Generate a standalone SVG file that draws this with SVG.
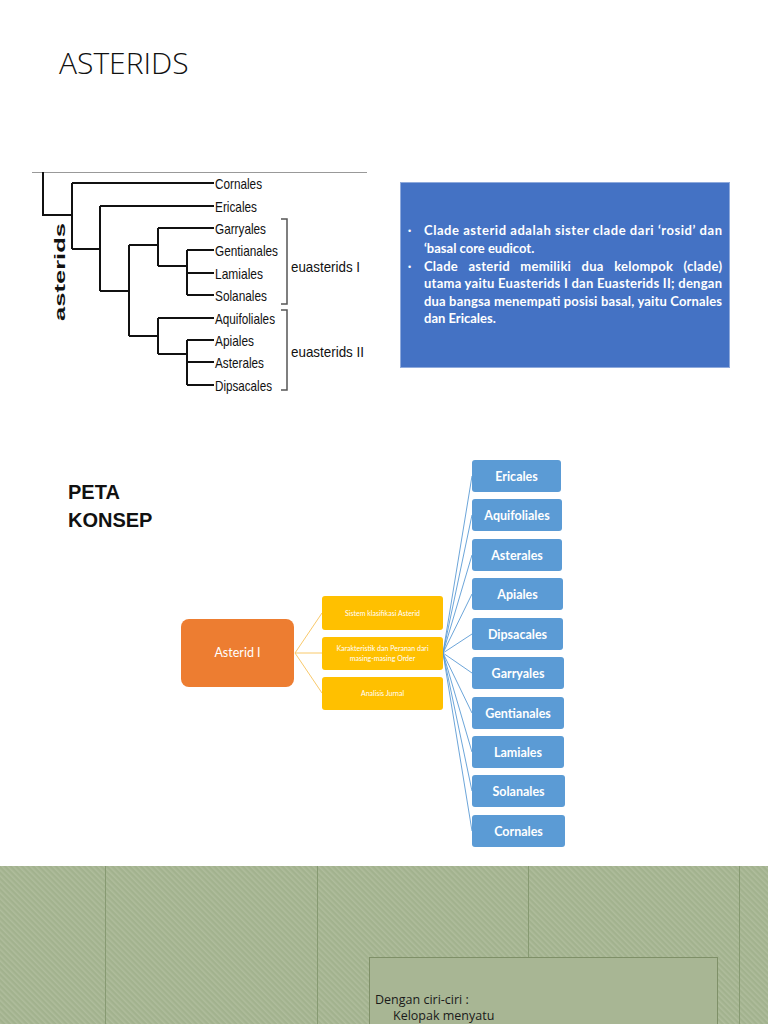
<svg xmlns="http://www.w3.org/2000/svg" width="768" height="1024" viewBox="0 0 768 1024">
<style>
.clade{fill:none;stroke:#111;stroke-width:2}
.leaf{font-family:"Liberation Sans",Arial,sans-serif;font-size:15px;fill:#111}
.brk{fill:none;stroke:#555;stroke-width:1.5}
.blu{font-family:Lato,"Open Sans",sans-serif;font-weight:bold;font-size:13px;fill:#fff}
.bul{font-family:"Liberation Sans",Arial,sans-serif;font-size:9px;fill:#fff}
.ord rect{fill:#5B9BD5}
.ord text{font-family:Lato,"Open Sans",sans-serif;font-weight:bold;font-size:12.5px;fill:#fff;text-anchor:middle}
.yel rect{fill:#FFC000}
.yel text{font-family:Lato,"Open Sans",sans-serif;font-size:7px;fill:#fff;text-anchor:middle}
.vl{stroke:#879a72;stroke-width:1}
</style>
<defs>
<pattern id="stripes" width="4" height="4" patternUnits="userSpaceOnUse" patternTransform="rotate(-45)">
<rect width="4" height="4" fill="#a2b28e"/>
<rect width="1.6" height="4" fill="#afbd9c"/>
</pattern>
</defs>
<rect width="768" height="1024" fill="#fff"/>

<text x="59" y="74" font-family="'Open Sans',sans-serif" font-weight="300" font-size="30" fill="#111">ASTERIDS</text>

<g id="cladogram">
<line x1="32" y1="172.5" x2="367" y2="172.5" stroke="#999" stroke-width="1"/>
<path class="clade" d="M43,172 V215 H72 M72,183 V249 M72,183 H214 M72,249 H100 M100,206 V291 M100,206 H214 M100,291 H129 M129,245 V336 M129,245 H158 M158,228 V266 M158,228 H214 M158,266 H187 M187,250 V295 M187,250 H214 M187,273 H214 M187,295 H214 M129,336 H158 M158,318 V354 M158,318 H214 M158,354 H187 M187,340 V385 M187,340 H214 M187,362 H214 M187,385 H214"/>
<text class="leaf" x="215" y="188.5" textLength="47" lengthAdjust="spacingAndGlyphs">Cornales</text>
<text class="leaf" x="215" y="211.5" textLength="42" lengthAdjust="spacingAndGlyphs">Ericales</text>
<text class="leaf" x="215" y="233.5" textLength="51" lengthAdjust="spacingAndGlyphs">Garryales</text>
<text class="leaf" x="215" y="255.5" textLength="63" lengthAdjust="spacingAndGlyphs">Gentianales</text>
<text class="leaf" x="215" y="278.5" textLength="48" lengthAdjust="spacingAndGlyphs">Lamiales</text>
<text class="leaf" x="215" y="300.5" textLength="52" lengthAdjust="spacingAndGlyphs">Solanales</text>
<text class="leaf" x="215" y="323.5" textLength="60" lengthAdjust="spacingAndGlyphs">Aquifoliales</text>
<text class="leaf" x="215" y="345.5" textLength="39" lengthAdjust="spacingAndGlyphs">Apiales</text>
<text class="leaf" x="215" y="367.5" textLength="49" lengthAdjust="spacingAndGlyphs">Asterales</text>
<text class="leaf" x="215" y="390.5" textLength="57" lengthAdjust="spacingAndGlyphs">Dipsacales</text>
<path class="brk" d="M281,219 H287 V304 H281 M281,310 H287 V390 H281"/>
<text class="leaf" x="291" y="272" font-size="17" textLength="69" lengthAdjust="spacingAndGlyphs">euasterids I</text>
<text class="leaf" x="291" y="357" font-size="17" textLength="73" lengthAdjust="spacingAndGlyphs">euasterids II</text>
<text class="leaf" transform="translate(65,321) rotate(-90)" font-size="20" font-weight="bold" textLength="98" lengthAdjust="spacingAndGlyphs">asterids</text>
</g>

<g id="infobox">
<rect x="400.5" y="182.5" width="329" height="185" fill="#4472C4" stroke="#8faadc" stroke-width="1"/>
<text class="bul" x="408" y="234">•</text>
<text class="blu" x="424" y="235" textLength="298" lengthAdjust="spacing">Clade asterid adalah sister clade dari ‘rosid’  dan</text>
<text class="blu" x="424" y="252.5">‘basal core eudicot.</text>
<text class="bul" x="408" y="269.5">•</text>
<text class="blu" x="424" y="270.5" word-spacing="7" textLength="298" lengthAdjust="spacing">Clade asterid memiliki dua kelompok (clade)</text>
<text class="blu" x="424" y="288" textLength="298" lengthAdjust="spacing">utama yaitu Euasterids I dan Euasterids II; dengan</text>
<text class="blu" x="424" y="305.5" textLength="298" lengthAdjust="spacing">dua bangsa menempati posisi basal, yaitu Cornales</text>
<text class="blu" x="424" y="323">dan Ericales.</text>
</g>

<g id="peta-konsep">
<text x="68" y="499" font-family="'Liberation Sans',Arial,sans-serif" font-weight="bold" font-size="20" fill="#111">PETA</text>
<text x="68" y="527" font-family="'Liberation Sans',Arial,sans-serif" font-weight="bold" font-size="20" fill="#111">KONSEP</text>
</g>

<g id="connectors">
<g stroke="#F9C96B" stroke-width="1" fill="none">
<line x1="295" y1="653" x2="322" y2="613"/>
<line x1="295" y1="653" x2="322" y2="653"/>
<line x1="295" y1="653" x2="322" y2="693"/>
</g>
<g stroke="#5B9BD5" stroke-width="0.9" fill="none">
<line x1="443" y1="653" x2="472" y2="476"/>
<line x1="443" y1="653" x2="472" y2="515"/>
<line x1="443" y1="653" x2="472" y2="555"/>
<line x1="443" y1="653" x2="472" y2="594"/>
<line x1="443" y1="653" x2="472" y2="634"/>
<line x1="443" y1="653" x2="472" y2="673"/>
<line x1="443" y1="653" x2="472" y2="713"/>
<line x1="443" y1="653" x2="472" y2="752"/>
<line x1="443" y1="653" x2="472" y2="791"/>
<line x1="443" y1="653" x2="472" y2="831"/>
</g>
</g>

<g id="asterid-i">
<rect x="181" y="619" width="113" height="68" rx="8" fill="#ED7D31"/>
<text x="237.5" y="657" font-family="Lato,'Open Sans',sans-serif" font-size="12.5" fill="#fff" text-anchor="middle">Asterid I</text>
</g>

<g id="sistem" class="yel">
<rect x="322" y="596" width="121" height="34" rx="3"/>
<text x="382.5" y="615.5">Sistem klasifikasi Asterid</text>
</g>
<g id="karakteristik" class="yel">
<rect x="322" y="637" width="121" height="33" rx="3"/>
<text x="382.5" y="651">Karakteristik dan Peranan dari</text>
<text x="382.5" y="661">masing-masing Order</text>
</g>
<g id="analisis" class="yel">
<rect x="322" y="677" width="121" height="33" rx="3"/>
<text x="382.5" y="696">Analisis Jurnal</text>
</g>

<g id="ericales" class="ord"><rect x="472" y="460" width="89" height="32" rx="3"/><text x="516.5" y="480.5">Ericales</text></g>
<g id="aquifoliales" class="ord"><rect x="472" y="499" width="90" height="32" rx="3"/><text x="517" y="519.5">Aquifoliales</text></g>
<g id="asterales" class="ord"><rect x="472" y="539" width="90" height="32" rx="3"/><text x="517" y="559.5">Asterales</text></g>
<g id="apiales" class="ord"><rect x="472" y="578" width="91" height="32" rx="3"/><text x="517.5" y="598.5">Apiales</text></g>
<g id="dipsacales" class="ord"><rect x="472" y="618" width="91" height="32" rx="3"/><text x="517.5" y="638.5">Dipsacales</text></g>
<g id="garryales" class="ord"><rect x="472" y="657" width="92" height="32" rx="3"/><text x="518" y="677.5">Garryales</text></g>
<g id="gentianales" class="ord"><rect x="472" y="697" width="92" height="32" rx="3"/><text x="518" y="717.5">Gentianales</text></g>
<g id="lamiales" class="ord"><rect x="472" y="736" width="92" height="32" rx="3"/><text x="518" y="756.5">Lamiales</text></g>
<g id="solanales" class="ord"><rect x="472" y="775" width="93" height="32" rx="3"/><text x="518.5" y="795.5">Solanales</text></g>
<g id="cornales" class="ord"><rect x="472" y="815" width="93" height="32" rx="3"/><text x="518.5" y="835.5">Cornales</text></g>

<g id="bottom-slide">
<rect x="0" y="866" width="768" height="158" fill="url(#stripes)"/>
<line class="vl" x1="105.5" y1="866" x2="105.5" y2="1024"/>
<line class="vl" x1="317.5" y1="866" x2="317.5" y2="1024"/>
<line class="vl" x1="528.5" y1="866" x2="528.5" y2="957"/>
<line class="vl" x1="739.5" y1="866" x2="739.5" y2="1024"/>
<rect x="369.5" y="957.5" width="348" height="80" fill="#a8b694" stroke="#7f9068" stroke-width="1"/>
<text x="375" y="1004" font-family="'Open Sans',sans-serif" font-size="12.5" fill="#1a1a1a">Dengan ciri-ciri :</text>
<text x="393" y="1020" font-family="'Open Sans',sans-serif" font-size="12.5" fill="#1a1a1a">Kelopak menyatu</text>
</g>
</svg>
